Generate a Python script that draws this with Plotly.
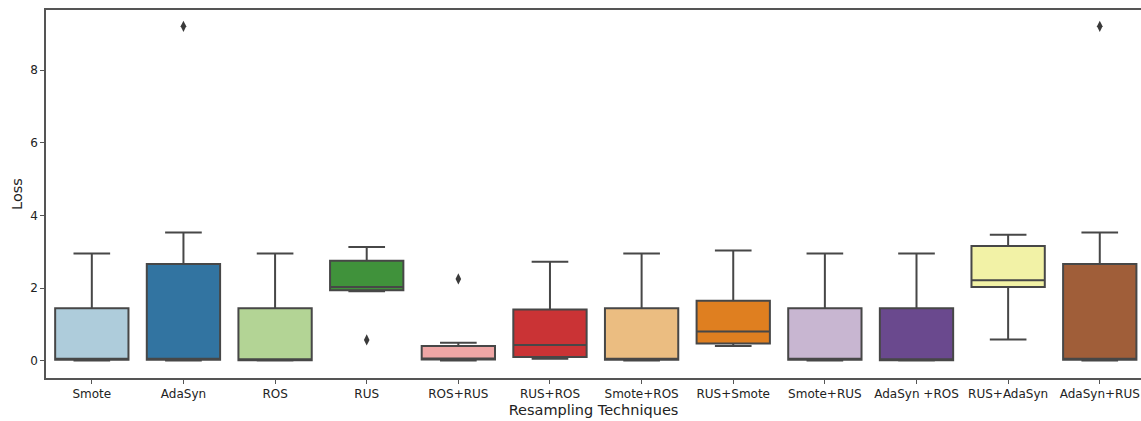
import plotly.graph_objects as go

# Resampling techniques on the x axis
techniques = ["Smote", "AdaSyn", "ROS", "RUS", "ROS+RUS", "RUS+ROS",
              "Smote+ROS", "RUS+Smote", "Smote+RUS", "AdaSyn +ROS",
              "RUS+AdaSyn", "AdaSyn+RUS"]

# Five-number summaries of the loss per technique
lower_whisker = [0.00, 0.00, 0.00, 1.91, 0.00, 0.05, 0.00, 0.40, 0.00, 0.00, 0.58, 0.00]
q1 = [0.02, 0.02, 0.01, 1.94, 0.03, 0.10, 0.02, 0.47, 0.02, 0.01, 2.03, 0.02]
median = [0.04, 0.04, 0.02, 2.03, 0.04, 0.43, 0.03, 0.80, 0.03, 0.02, 2.21, 0.04]
q3 = [1.44, 2.66, 1.44, 2.75, 0.40, 1.41, 1.44, 1.65, 1.44, 1.44, 3.16, 2.66]
upper_whisker = [2.95, 3.53, 2.95, 3.13, 0.49, 2.72, 2.95, 3.03, 2.95, 2.95, 3.47, 3.53]

# Outlying observations
outlier_technique = ["AdaSyn", "RUS", "ROS+RUS", "AdaSyn+RUS"]
outlier_loss = [9.21, 0.57, 2.25, 9.21]

# Paired palette, desaturated
colors = ["#aeccdb", "#3274a1", "#b3d495", "#40923b", "#efa6a5", "#ca3335",
          "#ebbd81", "#df7f20", "#c8b6d1", "#6a498e", "#f2f2a6", "#a05e39"]

line_gray = "#474747"
axis_gray = "#555555"
text_color = "#222222"
font_family = "DejaVu Sans, Liberation Sans, sans-serif"

fig = go.Figure()
for i, name in enumerate(techniques):
    fig.add_trace(go.Box(
        x=[name],
        q1=[q1[i]], median=[median[i]], q3=[q3[i]],
        lowerfence=[lower_whisker[i]], upperfence=[upper_whisker[i]],
        width=0.8, whiskerwidth=0.5,
        fillcolor=colors[i],
        line=dict(color=line_gray, width=2),
        boxpoints=False, showlegend=False, hoverinfo="skip",
    ))

fig.add_trace(go.Scatter(
    x=outlier_technique, y=outlier_loss, mode="markers",
    marker=dict(symbol="diamond-tall", size=8, color="#3a3a3a",
                line=dict(width=0)),
    showlegend=False, hoverinfo="skip",
))

fig.update_layout(
    width=1141, height=421,
    margin=dict(l=46, r=0, t=10, b=43),
    plot_bgcolor="white", paper_bgcolor="white",
    font=dict(family=font_family, size=12, color=text_color),
    boxmode="overlay",
)

fig.update_xaxes(
    type="category", categoryorder="array", categoryarray=techniques,
    range=[-0.5, 11.45],
    showline=True, linecolor=axis_gray, linewidth=1.5, mirror=True,
    ticks="outside", ticklen=4, tickwidth=1, tickcolor=axis_gray,
    showgrid=False, zeroline=False,
    tickfont=dict(size=12, color=text_color),
    title=dict(text="Resampling Techniques", font=dict(size=14.5, color=text_color),
               standoff=5),
)

fig.update_yaxes(
    range=[-0.48, 9.66],
    tickvals=[0, 2, 4, 6, 8],
    showline=True, linecolor=axis_gray, linewidth=1.5, mirror=False,
    ticks="outside", ticklen=4, tickwidth=1, tickcolor=axis_gray,
    showgrid=False, zeroline=False,
    tickfont=dict(size=12, color=text_color),
    title=dict(text="Loss", font=dict(size=14.5, color=text_color), standoff=4),
)

fig.write_html("out.html")
